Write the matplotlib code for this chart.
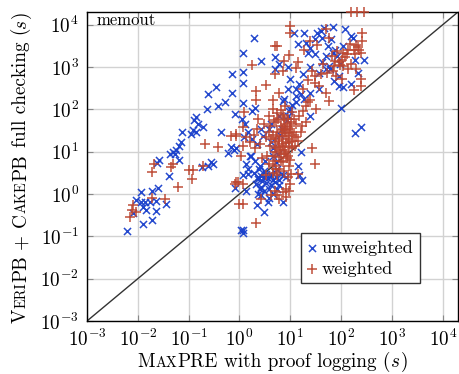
import matplotlib
matplotlib.use('Agg')
import matplotlib.pyplot as plt
from matplotlib.transforms import IdentityTransform

plt.rcParams['font.family'] = 'cmr10'
plt.rcParams['mathtext.fontset'] = 'cm'
plt.rcParams['axes.formatter.use_mathtext'] = True

# (MaxPRE time, VeriPB+CakePB time) in seconds
unweighted = [
    (0.14, 65), (0.13, 55), (0.155, 46), (0.19, 39), (0.113, 26), (0.121, 32), (0.14, 29), (0.074, 29),
    (0.072, 16.6), (0.066, 14), (0.057, 10.8), (0.049, 9.8), (0.043, 8.9), (0.054, 8.9), (0.066, 6.5),
    (0.026, 6.2), (0.024, 5.5), (0.041, 2.6), (0.0117, 1.1), (0.0186, 1.2), (0.025, 1.4), (0.0093, 0.71),
    (0.0117, 0.64), (0.0137, 0.64), (0.0174, 0.64), (0.0225, 0.67), (0.036, 0.59), (0.0125, 0.49),
    (0.0148, 0.43), (0.0225, 0.40), (0.0081, 0.35), (0.0125, 0.20), (0.019, 0.24), (0.0062, 0.133),
    (0.44, 29), (0.59, 9.2), (0.79, 11), (0.28, 5.6), (0.24, 4.7), (0.30, 5.1), (0.18, 4.3), (0.83, 1.4),
    (0.35, 330), (0.24, 230), (0.23, 100), (0.38, 120), (0.51, 150), (0.80, 78), (1.8, 93), (1.25, 22),
    (1.9, 4900), (1.2, 2100), (2.7, 1400), (0.72, 670), (1.2, 760), (1.2, 430), (0.72, 240), (5.0, 890),
    (4.9, 1700), (12, 6500), (19, 6500), (20, 3800), (14, 3500), (22, 2200), (10, 510), (15, 390),
    (34, 6500), (40, 7100), (46, 8500), (30, 2000), (37, 740), (50, 890), (8.9, 300), (13, 300),
    (13, 210), (16, 230), (24, 250), (7.1, 160),
    (68, 8800), (120, 7800), (160, 5400), (170, 4900), (43, 4900), (63, 4500), (110, 3100), (68, 2200),
    (85, 1800), (50, 1800), (190, 1500), (280, 1500), (43, 1300), (58, 1060), (220, 740), (91, 620),
    (73, 470), (160, 390), (110, 330), (37, 300), (91, 360),
    (100, 107), (190, 27), (250, 39),
    (1.16, 140), (2.0, 110), (0.86, 12), (0.69, 13), (1.6, 8.1), (2.7, 35), (2.9, 24), (4.2, 46),
    (3.9, 35), (2.5, 4.7), (1.35, 5.2), (1.45, 3.0), (2.3, 2.5), (16, 9.8), (14, 4.7), (15, 2.75),
    (10, 103), (7.6, 180), (13, 150), (4.5, 8.1), (5.2, 5.6), (4.9, 3.3), (7.1, 2.75), (4.2, 17),
    (6.1, 71), (8.9, 71), (19, 180), (24, 71),
    (2.3, 2.3), (2.1, 1.75), (2.5, 1.33), (3.1, 2.5), (4.2, 1.6), (6.1, 2.1), (8.3, 2.5), (1.35, 1.2),
    (3.6, 0.65), (7.1, 0.65), (3.1, 0.37), (17, 2.1), (1.16, 0.14), (1.16, 0.12), (1.08, 0.145),
    (2.7, 0.93), (2.3, 1.0),
    (2.8, 2), (3.3, 1.8), (3.6, 2.4), (4, 3), (4.5, 2.2), (5, 1.9), (3, 3.5), (2.6, 1.5), (3.9, 1.3),
    (5.5, 3.8), (6.5, 2.9), (2.4, 4), (3.2, 6), (4.6, 12), (5.8, 9), (6.2, 25), (7, 35), (8.5, 55),
    (9.5, 90), (11, 130),
    (1.1, 60), (1.3, 45), (1.5, 30), (1.8, 20), (2.2, 15), (1.7, 8), (2.0, 6), (1.5, 4), (1.2, 2.8),
    (1.9, 3.2), (2.6, 2.7), (3.4, 2.9), (4.2, 2.7), (5.2, 2.5), (3.0, 1.2), (4.5, 1.0), (5.5, 1.3),
    (6, 1.6), (3.8, 0.8), (2.2, 0.55),
    (25, 2800), (30, 4500), (55, 3200), (75, 2600), (95, 1200), (60, 900), (25, 1000), (18, 700),
    (9, 1000), (6, 1200),
]

weighted = [
    (0.21, 15), (0.37, 13), (0.69, 24), (0.86, 26), (0.021, 5.1), (0.0186, 3.4), (0.046, 4.3),
    (0.049, 5.1), (0.10, 3.7), (0.12, 3.6), (0.117, 2.3), (0.063, 1.45), (0.0186, 0.81), (0.035, 0.77),
    (0.0081, 0.54), (0.0076, 0.41), (0.0093, 0.37), (0.0069, 0.285), (0.86, 1.9), (0.19, 4.7),
    (10, 9300), (10, 6500), (5.6, 3100), (5.1, 3100), (1.8, 1100), (9.6, 1900), (7.6, 1400), (14, 1300),
    (7.1, 810), (13, 970), (4.9, 670), (24, 4100), (34, 3400), (19, 2600), (27, 810), (3.3, 370),
    (2.1, 270), (6.1, 250), (4.5, 170), (30, 430), (37, 360), (24, 170), (2.1, 170),
    (50, 7800), (58, 4900), (260, 6500), (260, 4100), (220, 2900), (180, 2600), (140, 2600), (110, 2200),
    (130, 2000), (190, 2000), (250, 2200), (106, 1500), (91, 1300), (73, 1060), (110, 1060), (140, 890),
    (68, 810), (54, 740), (250, 510), (250, 360), (106, 510), (50, 250), (58, 160), (79, 620), (180, 280),
    (1.25, 85), (2.3, 60), (3.9, 71), (5.2, 50), (7.1, 35), (8.3, 24), (6.1, 20), (9.6, 17), (7.1, 14),
    (5.2, 12), (11, 12), (8.3, 8.9), (6.1, 7.4), (7.1, 5.6), (9.6, 4.7), (4.5, 4.7), (5.6, 2.75),
    (3.3, 2.75), (1.16, 38), (0.86, 24), (1.35, 22), (1.6, 17), (1.16, 14), (1.08, 8.1), (2.0, 12),
    (3.3, 22), (20, 50), (27, 12), (30, 5.1), (14, 3.0), (32, 103), (4.5, 103), (16, 29), (13, 22),
    (10, 35), (7.6, 55),
    (0.93, 1.9), (0.80, 1.75), (1.16, 1.75), (1.0, 0.59), (1.16, 0.59), (2.1, 0.21), (5.6, 0.93),
    (7.1, 1.1), (6.1, 0.77), (8.3, 0.85), (4.9, 1.2), (4.2, 0.93), (2.7, 0.77), (8.3, 1.33), (10, 1.75),
    (9.6, 1.2),
    (5.5, 30), (6.5, 40), (7.5, 28), (8, 45), (6, 18), (7, 15), (9, 20), (5, 10), (6.5, 9), (7.5, 11),
    (8.5, 7), (4.5, 25), (5.8, 60), (7.2, 75), (9, 60), (10, 40), (11, 30), (12, 25), (4, 14), (3.5, 8),
    (5, 6), (6, 4), (7.5, 3.5), (9, 2.5), (10.5, 3),
    (4, 40), (4.8, 55), (5.5, 80), (6.5, 95), (8, 120), (3.8, 30), (4.2, 20), (5, 17), (5.8, 13),
    (6.8, 24), (7.8, 32), (8.8, 38), (10.5, 50), (12, 60), (13, 45), (9.5, 28), (11, 18), (12.5, 14),
    (8, 10), (9, 8), (10, 6.5), (6.5, 6), (5.2, 4), (4.5, 3.2), (3.8, 5), (2.8, 7), (2.5, 15), (3, 45),
    (2.2, 35), (1.9, 25), (15, 70), (18, 90), (20, 120), (22, 150), (17, 40), (14, 18),
    (150, 3500), (200, 3300), (230, 2500), (120, 1700), (160, 1200), (200, 900), (95, 1100), (75, 1400),
    (65, 1800), (85, 2400), (45, 1200), (40, 700), (30, 600), (22, 500), (18, 300),
    (6.8, 32), (5.3, 22), (8.2, 16), (6.2, 11), (4.6, 8), (9.4, 13), (7.4, 65), (10.8, 85),
]

memout_x = [160, 205, 280]
memout_y = 2e4
exps = [-3, -2, -1, 0, 1, 2, 3, 4]
lim = (1e-3, 2e4)

blue = '#1a40cc'
red = '#bc4630'
fs = 13.8
small = 10.4

fig = plt.figure(figsize=(4.6, 3.74), dpi=100)
ax = fig.add_axes([87/460, 53/374, 371/460, 309/374])
ax.set_xscale('log')
ax.set_yscale('log')
ax.set_xlim(lim)
ax.set_ylim(lim)

ax.plot(lim, lim, color='#333333', lw=1, zorder=2)
ux, uy = zip(*unweighted)
wx, wy = zip(*weighted)
ax.scatter(ux, uy, marker='x', s=26, color=blue, lw=1.1, alpha=0.95, label='unweighted', zorder=3)
ax.scatter(wx, wy, marker='+', s=50, color=red, lw=1.1, alpha=0.95, label='weighted', zorder=3)
ax.scatter(memout_x, [memout_y]*len(memout_x), marker='+', s=50, color=red, lw=1.1, alpha=0.95,
           zorder=4, clip_on=False)

ticks = [10.0**e for e in exps]
ax.set_xticks(ticks, [r'$10^{%d}$' % e for e in exps])
ax.set_yticks(ticks, [r'$10^{%d}$' % e for e in exps])
ax.minorticks_off()
ax.tick_params(direction='in', length=4, color='#888888', labelsize=fs, top=True, right=True, pad=6)
ax.grid(True, color='#d2d2d2', lw=1, zorder=0)
ax.set_axisbelow(True)
for s in ax.spines.values():
    s.set_linewidth(1)

ax.text(0.027, 0.997, 'memout', transform=ax.transAxes, fontsize=12, va='top', ha='left')

leg = ax.legend(loc='lower left', bbox_to_anchor=(0.576, 0.122), fontsize=13.2, fancybox=False,
                edgecolor='#333333', framealpha=1, handlelength=0.5, handletextpad=0.3,
                borderpad=0.35, labelspacing=0.3, scatterpoints=1, borderaxespad=0)
leg.get_frame().set_linewidth(1)


def pieces_text(x0, y0, pieces, vertical):
    r = fig.canvas.get_renderer()
    pos = y0 if vertical else x0
    for txt, size, fam, gap in pieces:
        if vertical:
            t = fig.text(x0, pos, txt, fontsize=size, family=fam, rotation=90, rotation_mode='anchor',
                         ha='left', va='baseline', transform=IdentityTransform())
            pos += t.get_window_extent(r).height + gap
        else:
            t = fig.text(pos, y0, txt, fontsize=size, family=fam, ha='left', va='baseline',
                         transform=IdentityTransform())
            pos += t.get_window_extent(r).width + gap


sp = 6.4
pieces_text(137, 7, [('M', fs, 'cmr10', 0.5), ('AX', small, 'cmr10', 0.8),
                     ('PRE', fs, 'cmr10', sp), ('with proof logging (', fs, 'cmr10', 0.5),
                     ('s', fs, 'cmmi10', 0.8), (')', fs, 'cmr10', 0)], False)
pieces_text(26, 51, [('V', fs, 'cmr10', 0.3), ('ERI', small, 'cmr10', 0.8), ('PB', fs, 'cmr10', sp),
                     ('+', fs, 'cmr10', sp), ('C', fs, 'cmr10', 0.5), ('AKE', small, 'cmr10', 0.8),
                     ('PB', fs, 'cmr10', sp), ('full checking (', fs, 'cmr10', 0.5),
                     ('s', fs, 'cmmi10', 0.8), (')', fs, 'cmr10', 0)], True)

fig.savefig('out.png', dpi=100)
